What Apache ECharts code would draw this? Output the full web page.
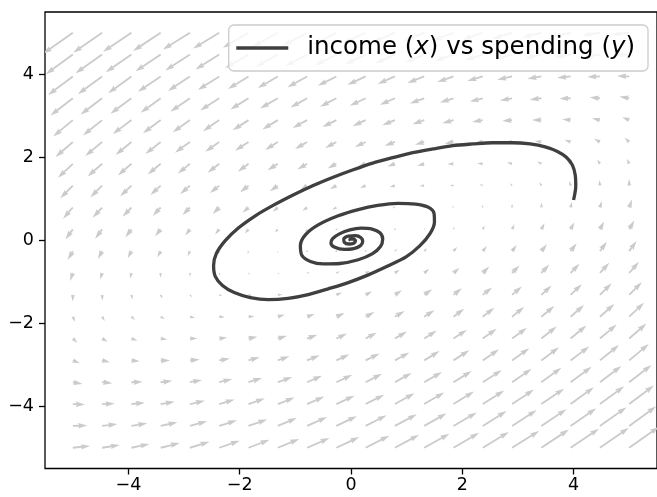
<!DOCTYPE html>
<html>
<head>
<meta charset="utf-8">
<script src="https://cdn.jsdelivr.net/npm/echarts@6/dist/echarts.min.js"></script>
<style>
html,body{margin:0;padding:0;background:#fff;}
#chart{width:657px;height:497px;}
</style>
</head>
<body>
<div id="chart"></div>
<script>
// ---- data ----
const xTicks = [-4, -2, 0, 2, 4];
const yTicks = [-4, -2, 0, 2, 4];

// quiver grid positions
const gridX = [-5,-4.474,-3.947,-3.421,-2.895,-2.368,-1.842,-1.316,-0.789,-0.263,0.263,0.789,1.316,1.842,2.368,2.895,3.421,3.947,4.474,5];
const gridY = [-5,-4.474,-3.947,-3.421,-2.895,-2.368,-1.842,-1.316,-0.789,-0.263,0.263,0.789,1.316,1.842,2.368,2.895,3.421,3.947,4.474,5];

// horizontal component of each arrow (rows follow gridY, columns follow gridX)
const fieldU = [
[3.7,3.8,3.9,4.1,4.2,4.4,4.5,4.6,4.8,4.9,5.1,5.2,5.4,5.5,5.6,5.8,5.9,6.1,6.2,6.4],
[3.1,3.3,3.4,3.6,3.7,3.8,4.0,4.1,4.3,4.4,4.5,4.7,4.8,5.0,5.1,5.3,5.4,5.5,5.7,5.8],
[2.6,2.7,2.9,3.0,3.2,3.3,3.5,3.6,3.7,3.9,4.0,4.2,4.3,4.4,4.6,4.7,4.9,5.0,5.2,5.3],
[2.1,2.2,2.4,2.5,2.6,2.8,2.9,3.1,3.2,3.4,3.5,3.6,3.8,3.9,4.1,4.2,4.3,4.5,4.6,4.8],
[1.5,1.7,1.8,2.0,2.1,2.3,2.4,2.5,2.7,2.8,3.0,3.1,3.3,3.4,3.5,3.7,3.8,4.0,4.1,4.2],
[1.0,1.2,1.3,1.4,1.6,1.7,1.9,2.0,2.2,2.3,2.4,2.6,2.7,2.9,3.0,3.2,3.3,3.4,3.6,3.7],
[0.5,0.6,0.8,0.9,1.1,1.2,1.3,1.5,1.6,1.8,1.9,2.1,2.2,2.3,2.5,2.6,2.8,2.9,3.1,3.2],
[0.0,0.1,0.3,0.4,0.5,0.7,0.8,1.0,1.1,1.2,1.4,1.5,1.7,1.8,2.0,2.1,2.2,2.4,2.5,2.7],
[-0.6,-0.4,-0.3,-0.1,0.0,0.2,0.3,0.4,0.6,0.7,0.9,1.0,1.1,1.3,1.4,1.6,1.7,1.9,2.0,2.1],
[-1.1,-0.9,-0.8,-0.7,-0.5,-0.4,-0.2,-0.1,0.1,0.2,0.3,0.5,0.6,0.8,0.9,1.0,1.2,1.3,1.5,1.6],
[-1.6,-1.5,-1.3,-1.2,-1.0,-0.9,-0.8,-0.6,-0.5,-0.3,-0.2,-0.1,0.1,0.2,0.4,0.5,0.7,0.8,0.9,1.1],
[-2.1,-2.0,-1.9,-1.7,-1.6,-1.4,-1.3,-1.1,-1.0,-0.9,-0.7,-0.6,-0.4,-0.3,-0.2,0.0,0.1,0.3,0.4,0.6],
[-2.7,-2.5,-2.4,-2.2,-2.1,-2.0,-1.8,-1.7,-1.5,-1.4,-1.2,-1.1,-1.0,-0.8,-0.7,-0.5,-0.4,-0.3,-0.1,0.0],
[-3.2,-3.1,-2.9,-2.8,-2.6,-2.5,-2.3,-2.2,-2.1,-1.9,-1.8,-1.6,-1.5,-1.3,-1.2,-1.1,-0.9,-0.8,-0.6,-0.5],
[-3.7,-3.6,-3.4,-3.3,-3.2,-3.0,-2.9,-2.7,-2.6,-2.4,-2.3,-2.2,-2.0,-1.9,-1.7,-1.6,-1.4,-1.3,-1.2,-1.0],
[-4.2,-4.1,-4.0,-3.8,-3.7,-3.5,-3.4,-3.3,-3.1,-3.0,-2.8,-2.7,-2.5,-2.4,-2.3,-2.1,-2.0,-1.8,-1.7,-1.5],
[-4.8,-4.6,-4.5,-4.3,-4.2,-4.1,-3.9,-3.8,-3.6,-3.5,-3.4,-3.2,-3.1,-2.9,-2.8,-2.6,-2.5,-2.4,-2.2,-2.1],
[-5.3,-5.2,-5.0,-4.9,-4.7,-4.6,-4.4,-4.3,-4.2,-4.0,-3.9,-3.7,-3.6,-3.5,-3.3,-3.2,-3.0,-2.9,-2.7,-2.6],
[-5.8,-5.7,-5.5,-5.4,-5.3,-5.1,-5.0,-4.8,-4.7,-4.5,-4.4,-4.3,-4.1,-4.0,-3.8,-3.7,-3.6,-3.4,-3.3,-3.1],
[-6.4,-6.2,-6.1,-5.9,-5.8,-5.6,-5.5,-5.4,-5.2,-5.1,-4.9,-4.8,-4.6,-4.5,-4.4,-4.2,-4.1,-3.9,-3.8,-3.7]
];

// vertical component of each arrow
const fieldV = [
[0.4,0.6,0.8,1.0,1.3,1.5,1.7,1.9,2.1,2.3,2.6,2.8,3.0,3.2,3.4,3.6,3.9,4.1,4.3,4.5],
[0.1,0.4,0.6,0.8,1.0,1.2,1.4,1.7,1.9,2.1,2.3,2.5,2.7,2.9,3.2,3.4,3.6,3.8,4.0,4.2],
[-0.1,0.1,0.3,0.5,0.7,1.0,1.2,1.4,1.6,1.8,2.0,2.3,2.5,2.7,2.9,3.1,3.3,3.6,3.8,4.0],
[-0.4,-0.2,0.1,0.3,0.5,0.7,0.9,1.1,1.4,1.6,1.8,2.0,2.2,2.4,2.6,2.9,3.1,3.3,3.5,3.7],
[-0.6,-0.4,-0.2,0.0,0.2,0.4,0.7,0.9,1.1,1.3,1.5,1.7,2.0,2.2,2.4,2.6,2.8,3.0,3.3,3.5],
[-0.9,-0.7,-0.5,-0.2,0.0,0.2,0.4,0.6,0.8,1.1,1.3,1.5,1.7,1.9,2.1,2.3,2.6,2.8,3.0,3.2],
[-1.1,-0.9,-0.7,-0.5,-0.3,-0.1,0.1,0.4,0.6,0.8,1.0,1.2,1.4,1.7,1.9,2.1,2.3,2.5,2.7,3.0],
[-1.4,-1.2,-1.0,-0.8,-0.5,-0.3,-0.1,0.1,0.3,0.5,0.8,1.0,1.2,1.4,1.6,1.8,2.0,2.3,2.5,2.7],
[-1.7,-1.4,-1.2,-1.0,-0.8,-0.6,-0.4,-0.2,0.1,0.3,0.5,0.7,0.9,1.1,1.4,1.6,1.8,2.0,2.2,2.4],
[-1.9,-1.7,-1.5,-1.3,-1.1,-0.8,-0.6,-0.4,-0.2,0.0,0.2,0.5,0.7,0.9,1.1,1.3,1.5,1.7,2.0,2.2],
[-2.2,-2.0,-1.7,-1.5,-1.3,-1.1,-0.9,-0.7,-0.5,-0.2,0.0,0.2,0.4,0.6,0.8,1.1,1.3,1.5,1.7,1.9],
[-2.4,-2.2,-2.0,-1.8,-1.6,-1.4,-1.1,-0.9,-0.7,-0.5,-0.3,-0.1,0.2,0.4,0.6,0.8,1.0,1.2,1.4,1.7],
[-2.7,-2.5,-2.3,-2.0,-1.8,-1.6,-1.4,-1.2,-1.0,-0.8,-0.5,-0.3,-0.1,0.1,0.3,0.5,0.8,1.0,1.2,1.4],
[-3.0,-2.7,-2.5,-2.3,-2.1,-1.9,-1.7,-1.4,-1.2,-1.0,-0.8,-0.6,-0.4,-0.1,0.1,0.3,0.5,0.7,0.9,1.1],
[-3.2,-3.0,-2.8,-2.6,-2.3,-2.1,-1.9,-1.7,-1.5,-1.3,-1.1,-0.8,-0.6,-0.4,-0.2,0.0,0.2,0.5,0.7,0.9],
[-3.5,-3.3,-3.0,-2.8,-2.6,-2.4,-2.2,-2.0,-1.7,-1.5,-1.3,-1.1,-0.9,-0.7,-0.4,-0.2,0.0,0.2,0.4,0.6],
[-3.7,-3.5,-3.3,-3.1,-2.9,-2.6,-2.4,-2.2,-2.0,-1.8,-1.6,-1.4,-1.1,-0.9,-0.7,-0.5,-0.3,-0.1,0.2,0.4],
[-4.0,-3.8,-3.6,-3.3,-3.1,-2.9,-2.7,-2.5,-2.3,-2.0,-1.8,-1.6,-1.4,-1.2,-1.0,-0.7,-0.5,-0.3,-0.1,0.1],
[-4.2,-4.0,-3.8,-3.6,-3.4,-3.2,-2.9,-2.7,-2.5,-2.3,-2.1,-1.9,-1.7,-1.4,-1.2,-1.0,-0.8,-0.6,-0.4,-0.1],
[-4.5,-4.3,-4.1,-3.9,-3.6,-3.4,-3.2,-3.0,-2.8,-2.6,-2.3,-2.1,-1.9,-1.7,-1.5,-1.3,-1.0,-0.8,-0.6,-0.4]
];

// trajectory: income (x) and spending (y)
const trajX = [4.00,4.04,4.03,3.98,3.87,3.71,3.49,3.22,2.90,2.54,2.19,1.83,1.47,1.11,0.75,0.39,0.04,-0.32,-0.68,-1.04,-1.40,-1.72,-2.02,-2.26,-2.42,-2.47,-2.44,-2.31,-2.10,-1.81,-1.49,-1.13,-0.77,-0.41,-0.05,0.30,0.66,0.99,1.24,1.42,1.50,1.49,1.38,1.16,0.84,0.48,0.13,-0.23,-0.59,-0.82,-0.91,-0.88,-0.73,-0.50,-0.20,0.13,0.38,0.53,0.57,0.52,0.38,0.18,-0.02,-0.20,-0.33,-0.36,-0.29,-0.12,0.05,0.17,0.21,0.18,0.08,-0.05,-0.13,-0.12,-0.04,0.05,0.08,0.04,-0.02,-0.01];
const trajY = [0.97,1.31,1.57,1.81,2.00,2.14,2.25,2.32,2.35,2.35,2.32,2.28,2.20,2.11,1.99,1.86,1.70,1.52,1.32,1.09,0.84,0.59,0.30,-0.01,-0.32,-0.61,-0.87,-1.09,-1.26,-1.38,-1.43,-1.40,-1.31,-1.17,-1.02,-0.84,-0.62,-0.40,-0.13,0.16,0.44,0.66,0.80,0.87,0.89,0.84,0.74,0.59,0.37,0.13,-0.13,-0.37,-0.51,-0.57,-0.56,-0.47,-0.33,-0.15,0.03,0.18,0.27,0.29,0.25,0.16,0.04,-0.07,-0.17,-0.22,-0.20,-0.13,-0.03,0.06,0.11,0.10,0.03,-0.05,-0.09,-0.07,-0.01,0.03,0.02,-0.01];

const seriesName = 'income (x) vs spending (y)';

// ---- drawing ----
const SHAFT = 1.84;   // arrow shaft width, px
const PX_PER_UNIT = 4.66; // arrow length scale, px per field unit

function arrowPolygon(x0, y0, dx, dy) {
  const lenPx = Math.hypot(dx, dy);
  const L = lenPx / SHAFT;
  let pts;
  if (L < 1) {
    pts = [];
    for (let k = 0; k < 7; k++) {
      const th = k * Math.PI / 3;
      pts.push([Math.cos(th) * 0.5, Math.sin(th) * 0.5]);
    }
  } else if (L < 5) {
    const s = L / 5;
    pts = [[0,0.5],[0.5,0.5],[0,1.5],[5,0],[0,-1.5],[0.5,-0.5],[0,-0.5]].map(p => [p[0]*s, p[1]*s]);
  } else {
    pts = [[0,0.5],[L-4.5,0.5],[L-5,1.5],[L,0],[L-5,-1.5],[L-4.5,-0.5],[0,-0.5]];
  }
  const c = lenPx > 0 ? dx / lenPx : 1, sn = lenPx > 0 ? dy / lenPx : 0;
  return pts.map(p => [x0 + (p[0]*c - p[1]*sn) * SHAFT, y0 + (p[0]*sn + p[1]*c) * SHAFT]);
}

const quiverData = [];
for (let j = 0; j < gridY.length; j++) {
  for (let i = 0; i < gridX.length; i++) {
    quiverData.push([gridX[i], gridY[j], fieldU[j][i], fieldV[j][i]]);
  }
}
const trajData = trajX.map((x, i) => [x, trajY[i]]);

const minusFmt = v => (v < 0 ? '\u2212' : '') + Math.abs(v);
const FONT = 'DejaVu Sans';

const chart = echarts.init(document.getElementById('chart'), null, {renderer: 'canvas'});
chart.setOption({
  animation: false,
  backgroundColor: '#ffffff',
  grid: {
    left: 45, top: 12, width: 615, height: 456.5,
    show: true, borderColor: '#000', borderWidth: 1.3, backgroundColor: 'transparent'
  },
  xAxis: {
    type: 'value', min: -5.5, max: 5.5,
    axisLine: {show: false, onZero: false},
    splitLine: {show: false},
    axisTick: {show: true, length: 6, lineStyle: {color: '#000', width: 1.3}, customValues: xTicks},
    axisLabel: {customValues: xTicks, formatter: minusFmt, color: '#000', fontFamily: FONT, fontSize: 17.5, margin: 8}
  },
  yAxis: {
    type: 'value', min: -5.5, max: 5.5,
    axisLine: {show: false, onZero: false},
    splitLine: {show: false},
    axisTick: {show: true, length: 6, lineStyle: {color: '#000', width: 1.3}, customValues: yTicks},
    axisLabel: {customValues: yTicks, formatter: minusFmt, color: '#000', fontFamily: FONT, fontSize: 17.5, margin: 11}
  },
  legend: {
    data: [{name: seriesName, icon: 'rect'}],
    right: 9, top: 25,
    itemWidth: 52, itemHeight: 3.5,
    backgroundColor: 'rgba(255,255,255,0.8)',
    borderColor: '#cccccc', borderWidth: 1.3, borderRadius: 5,
    padding: [10.5, 13, 10.5, 7.5],
    selectedMode: false,
    formatter: () => '{n|income (}{i|x}{n|) vs spending (}{i|y}{n|)}',
    textStyle: {
      padding: [0, 0, 0, 14],
      rich: {
        n: {fontFamily: FONT, fontSize: 24.5, color: '#000'},
        i: {fontFamily: FONT, fontStyle: 'italic', fontSize: 24.5, color: '#000'}
      }
    }
  },
  series: [
    {
      type: 'custom',
      clip: true,
      silent: true,
      z: 1,
      data: quiverData,
      renderItem: function (params, api) {
        const p = api.coord([api.value(0), api.value(1)]);
        const dx = PX_PER_UNIT * api.value(2);
        const dy = -PX_PER_UNIT * api.value(3);
        return {
          type: 'polygon',
          shape: {points: arrowPolygon(p[0], p[1], dx, dy)},
          style: {fill: '#cbcbcb'}
        };
      }
    },
    {
      name: seriesName,
      type: 'line',
      z: 3,
      data: trajData,
      showSymbol: false,
      smooth: 0.3,
      color: '#3f3f3f',
      lineStyle: {color: '#3f3f3f', width: 3.3},
      clip: true
    }
  ]
});
</script>
</body>
</html>
